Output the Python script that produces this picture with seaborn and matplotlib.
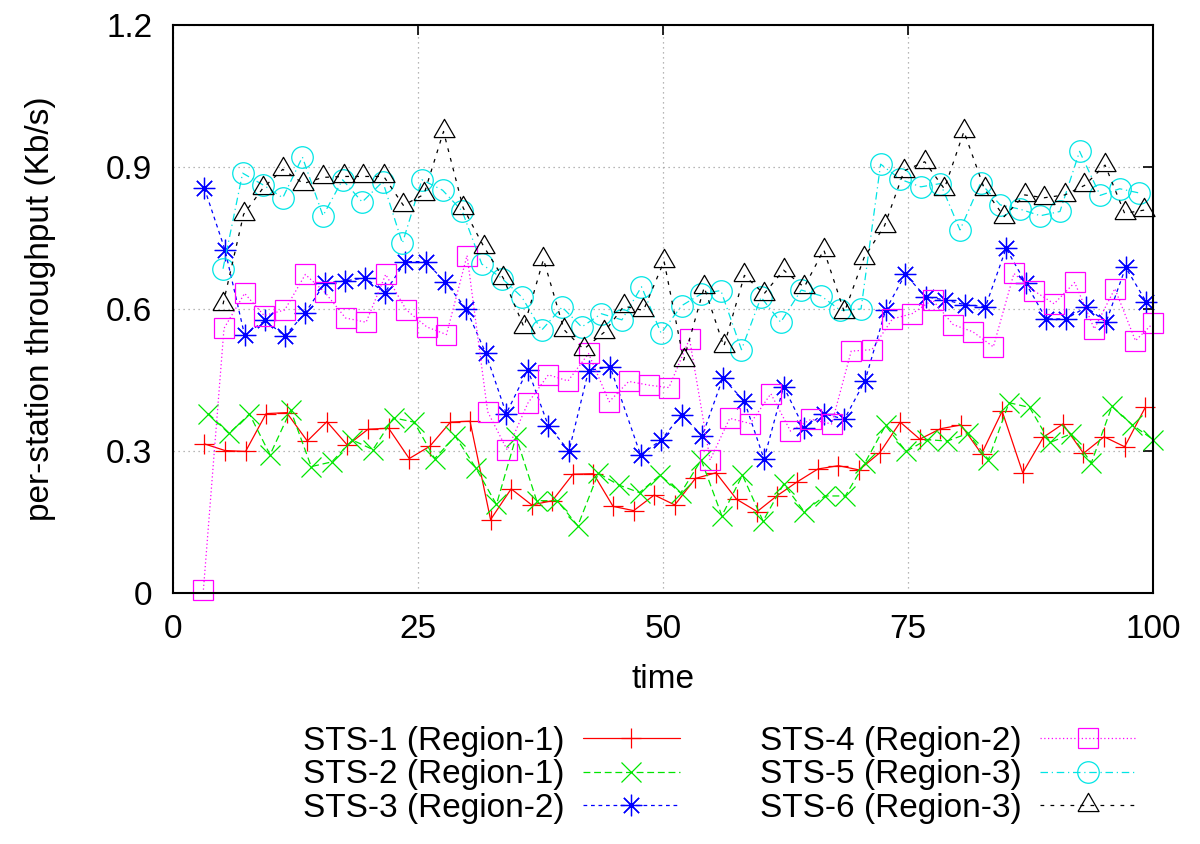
import matplotlib
matplotlib.use("Agg")
import matplotlib.pyplot as plt
import seaborn as sns

# Sample times and per-station throughput (Kb/s).
# Each station reports on its own clock, so each one has its own time list.
time_sts1 = [3.2, 5.3, 7.4, 9.5, 11.6, 13.7, 15.7, 17.8, 19.9, 22.0,
             24.1, 26.2, 28.3, 30.3, 32.4, 34.5, 36.6, 38.7, 40.8, 42.9,
             44.9, 47.0, 49.1, 51.2, 53.3, 55.4, 57.5, 59.6, 61.6, 63.7,
             65.8, 67.9, 70.0, 72.1, 74.2, 76.2, 78.3, 80.4, 82.5, 84.6,
             86.7, 88.8, 90.8, 92.9, 95.0, 97.1, 99.2]
sts1 = [0.315, 0.301, 0.299, 0.379, 0.381, 0.321, 0.362, 0.312, 0.346, 0.348,
        0.284, 0.310, 0.361, 0.363, 0.155, 0.220, 0.186, 0.195, 0.251, 0.252,
        0.183, 0.174, 0.207, 0.186, 0.242, 0.254, 0.198, 0.172, 0.205, 0.235,
        0.262, 0.269, 0.260, 0.296, 0.361, 0.325, 0.347, 0.355, 0.294, 0.384,
        0.254, 0.329, 0.357, 0.295, 0.330, 0.309, 0.392]

time_sts2 = [3.6, 5.7, 7.8, 9.9, 12.0, 14.1, 16.2, 18.3, 20.4, 22.5,
             24.6, 26.7, 28.8, 30.9, 33.0, 35.0, 37.1, 39.2, 41.3, 43.4,
             45.5, 47.6, 49.7, 51.8, 53.9, 56.0, 58.1, 60.2, 62.3, 64.4,
             66.5, 68.6, 70.6, 72.7, 74.8, 76.9, 79.0, 81.1, 83.2, 85.3,
             87.4, 89.5, 91.6, 93.7, 95.8, 97.9, 100.0]
sts2 = [0.379, 0.337, 0.378, 0.292, 0.386, 0.267, 0.277, 0.323, 0.303, 0.370,
        0.361, 0.284, 0.331, 0.264, 0.187, 0.330, 0.195, 0.195, 0.142, 0.253,
        0.228, 0.212, 0.249, 0.211, 0.281, 0.163, 0.249, 0.152, 0.230, 0.172,
        0.205, 0.205, 0.275, 0.354, 0.299, 0.324, 0.321, 0.337, 0.282, 0.402,
        0.392, 0.318, 0.336, 0.275, 0.394, 0.355, 0.324]

time_sts3 = [3.2, 5.3, 7.3, 9.4, 11.4, 13.5, 15.5, 17.5, 19.6, 21.6,
             23.7, 25.8, 27.8, 29.9, 31.9, 34.0, 36.2, 38.3, 40.4, 42.4,
             44.6, 47.7, 49.8, 51.9, 54.0, 56.1, 58.3, 60.3, 62.3, 64.4,
             66.4, 68.5, 70.6, 72.7, 74.7, 76.8, 78.8, 80.8, 82.9, 85.0,
             87.0, 89.1, 91.1, 93.2, 95.2, 97.2, 99.3]
sts3 = [0.855, 0.725, 0.545, 0.576, 0.543, 0.592, 0.655, 0.659, 0.666, 0.634,
        0.700, 0.700, 0.656, 0.601, 0.507, 0.379, 0.472, 0.353, 0.300, 0.470,
        0.478, 0.292, 0.323, 0.377, 0.332, 0.454, 0.405, 0.283, 0.436, 0.348,
        0.379, 0.367, 0.448, 0.597, 0.673, 0.626, 0.619, 0.609, 0.605, 0.728,
        0.655, 0.579, 0.579, 0.604, 0.572, 0.688, 0.615]

time_sts4 = [3.1, 5.2, 7.3, 9.3, 11.4, 13.5, 15.5, 17.6, 19.7, 21.7,
             23.8, 25.9, 27.9, 30.0, 32.1, 34.1, 36.2, 38.3, 40.3, 42.4,
             44.5, 46.5, 48.6, 50.6, 52.7, 54.8, 56.8, 58.9, 61.0, 63.0,
             65.1, 67.2, 69.2, 71.3, 73.4, 75.4, 77.5, 79.6, 81.6, 83.7,
             85.8, 87.8, 89.9, 92.0, 94.0, 96.1, 98.2, 100.0]
sts4 = [0.007, 0.559, 0.633, 0.586, 0.598, 0.673, 0.635, 0.581, 0.572, 0.673,
        0.598, 0.562, 0.546, 0.713, 0.383, 0.302, 0.401, 0.461, 0.448, 0.506,
        0.404, 0.447, 0.439, 0.434, 0.537, 0.281, 0.369, 0.358, 0.421, 0.342,
        0.367, 0.357, 0.511, 0.514, 0.579, 0.590, 0.619, 0.567, 0.552, 0.520,
        0.675, 0.639, 0.611, 0.656, 0.558, 0.643, 0.533, 0.570]

time_sts5 = [5.1, 7.1, 9.2, 11.2, 13.2, 15.3, 17.3, 19.3, 21.4, 23.4,
             25.4, 27.5, 29.5, 31.5, 33.6, 35.6, 37.6, 39.7, 41.7, 43.7,
             45.8, 47.8, 49.8, 51.9, 53.9, 55.9, 58.0, 60.0, 62.0, 64.1,
             66.1, 68.1, 70.2, 72.2, 74.2, 76.3, 78.3, 80.3, 82.4, 84.4,
             86.4, 88.5, 90.5, 92.5, 94.6, 96.6, 98.6]
sts5 = [0.685, 0.887, 0.862, 0.835, 0.921, 0.797, 0.873, 0.826, 0.869, 0.739,
        0.873, 0.851, 0.807, 0.695, 0.664, 0.625, 0.555, 0.604, 0.562, 0.590,
        0.577, 0.647, 0.549, 0.607, 0.632, 0.639, 0.514, 0.625, 0.572, 0.640,
        0.628, 0.597, 0.600, 0.906, 0.874, 0.858, 0.865, 0.767, 0.866, 0.820,
        0.811, 0.797, 0.806, 0.933, 0.840, 0.854, 0.845]

time_sts6 = [5.1, 7.2, 9.2, 11.2, 13.3, 15.3, 17.4, 19.4, 21.5, 23.5,
             25.6, 27.6, 29.6, 31.7, 33.7, 35.8, 37.8, 39.9, 41.9, 44.0,
             46.0, 48.0, 50.1, 52.1, 54.2, 56.2, 58.3, 60.3, 62.3, 64.4,
             66.4, 68.5, 70.5, 72.6, 74.6, 76.7, 78.7, 80.7, 82.8, 84.8,
             86.9, 88.9, 91.0, 93.0, 95.1, 97.1, 99.1]
sts6 = [0.610, 0.800, 0.856, 0.895, 0.865, 0.878, 0.880, 0.880, 0.880, 0.819,
        0.842, 0.975, 0.814, 0.732, 0.665, 0.562, 0.705, 0.556, 0.515, 0.551,
        0.606, 0.597, 0.701, 0.492, 0.646, 0.521, 0.671, 0.632, 0.682, 0.646,
        0.725, 0.593, 0.708, 0.776, 0.892, 0.911, 0.854, 0.975, 0.853, 0.795,
        0.841, 0.835, 0.841, 0.861, 0.904, 0.802, 0.809]

labels = ["STS-1 (Region-1)", "STS-2 (Region-1)", "STS-3 (Region-2)",
          "STS-4 (Region-2)", "STS-5 (Region-3)", "STS-6 (Region-3)"]

# gnuplot-like point types: +, x, asterisk, box, circle, triangle
triangle = [(-1, -0.577), (1, -0.577), (0, 1.155), (-1, -0.577)]
styles = [
    dict(color="#ff0000", marker="+", ms=14.5, ls="-"),
    dict(color="#00e600", marker="x", ms=14.0, ls=(0, (5.5, 3))),
    dict(color="#0000ff", marker=(8, 2, 0), ms=15.5, ls=(0, (3, 3))),
    dict(color="#ff00ff", marker="s", ms=15.0, ls=(0, (1, 2))),
    dict(color="#00e5e5", marker="o", ms=15.5, ls=(0, (6, 3, 1, 3))),
    dict(color="#000000", marker=triangle, ms=17.5, ls=(0, (3, 5))),
]

sns.set_style("white")
plt.rcParams["font.family"] = ["Liberation Sans", "DejaVu Sans"]
plt.rcParams["font.size"] = 24
plt.rcParams["text.color"] = "black"
plt.rcParams["axes.labelcolor"] = "black"

fig = plt.figure(figsize=(12, 8.44), dpi=100)
ax = fig.add_axes([0.1442, 0.2974, 0.8167, 0.6730])

series = [(time_sts1, sts1), (time_sts2, sts2), (time_sts3, sts3),
          (time_sts4, sts4), (time_sts5, sts5), (time_sts6, sts6)]
for (t, v), lab, st in zip(series, labels, styles):
    sns.lineplot(x=t, y=v, ax=ax, label=lab, estimator=None, errorbar=None,
                 color=st["color"], linestyle=st["ls"], linewidth=0.9,
                 marker=st["marker"], markersize=st["ms"],
                 markerfacecolor="none", markeredgecolor=st["color"],
                 markeredgewidth=0.9, clip_on=False)

ax.set_xlim(0, 100)
ax.set_ylim(0, 1.2)
ax.set_xticks([0, 25, 50, 75, 100])
ax.set_yticks([0, 0.3, 0.6, 0.9, 1.2])
ax.set_yticklabels(["0", "0.3", "0.6", "0.9", "1.2"])
ax.tick_params(direction="in", length=7, width=1.2, labelsize=24, pad=15,
               top=True, right=True, colors="black")
ax.grid(True, color="#a0a0a0", linestyle=(0, (1, 3)), linewidth=0.9)
for sp in ax.spines.values():
    sp.set_color("black")
    sp.set_linewidth(1.5)

ax.set_xlabel("time", fontsize=24, va="center")
ax.xaxis.set_label_coords(0.5, -0.153)
ax.set_ylabel("per-station throughput (Kb/s)", fontsize=24, va="center")
ax.yaxis.set_label_coords(-0.1357, 0.5)

ax.legend(ncol=2, loc="upper left", bbox_to_anchor=(303 / 1200, 1 - 726 / 844),
          bbox_transform=fig.transFigure, frameon=False, fontsize=24,
          markerfirst=False, numpoints=1, handlelength=2.9, handletextpad=0.55,
          columnspacing=2.4, labelspacing=0.07, borderpad=0, borderaxespad=0)

fig.savefig("out.png", dpi=100)
